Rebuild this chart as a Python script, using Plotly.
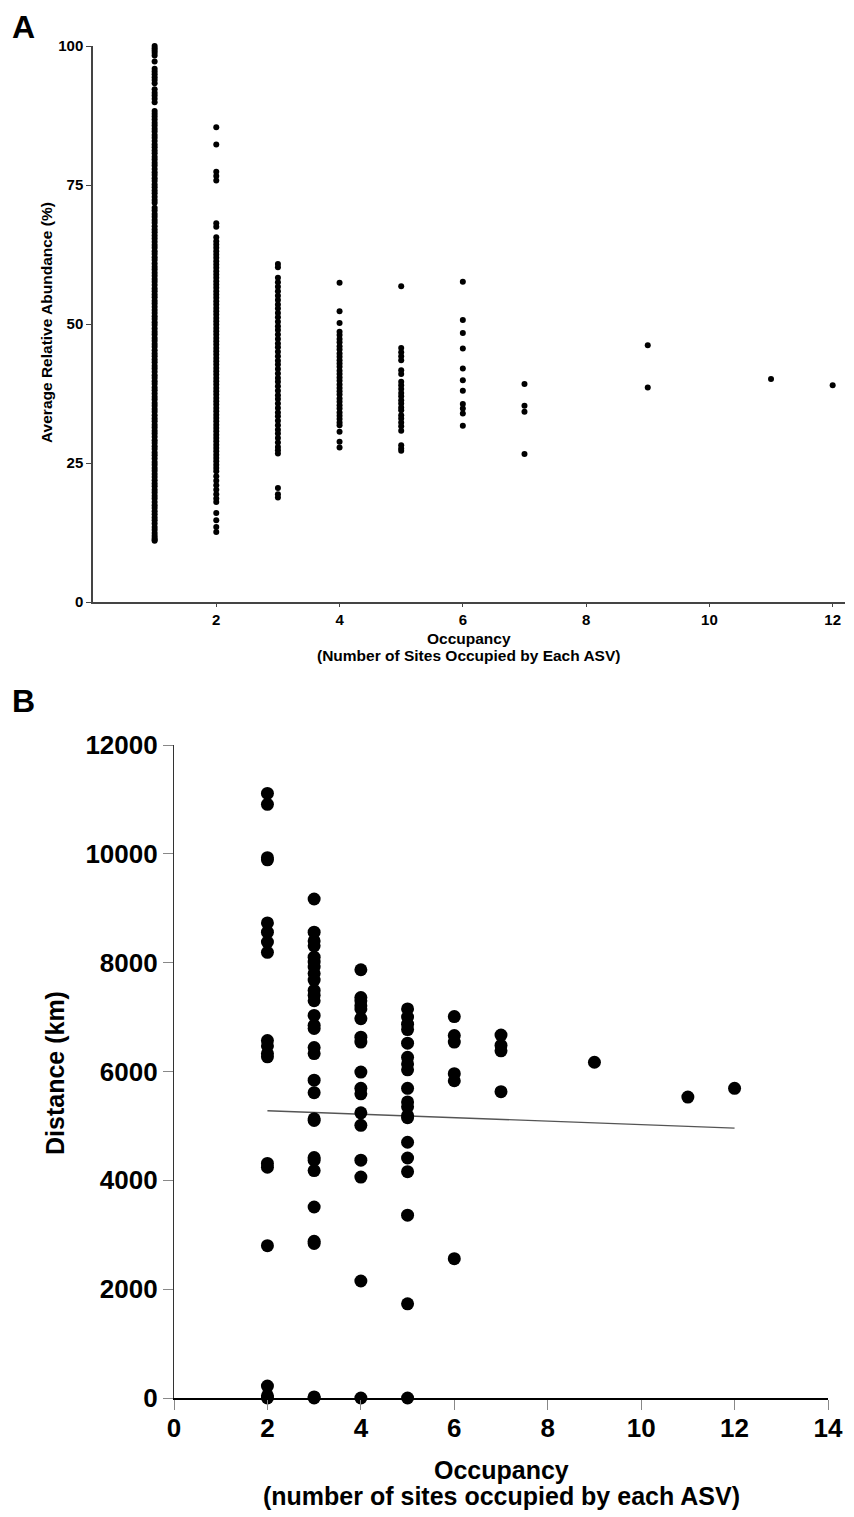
import plotly.graph_objects as go

# the page body adds an 8px margin, so the figure is drawn 8px smaller
# and all reference pixel positions are shifted by 8
PAGE_W, PAGE_H, OFF = 854, 1517, 8
W, H = PAGE_W - OFF, PAGE_H - OFF

# ---- Panel A: average relative abundance (%) by occupancy ----
a_occ1 = [100.0, 99.6, 99.2, 98.8, 98.3, 97.2, 95.9, 95.4, 94.9, 94.4, 93.9, 93.3,
          92.2, 91.6, 91.1, 90.5, 89.9,
          88.3, 87.8, 87.3, 86.8, 86.2, 85.7, 85.1, 84.6, 84.0, 83.5, 82.9, 82.3,
          81.8, 81.2, 80.7, 80.1, 79.6, 79.0, 78.5, 77.9, 77.3, 76.8, 76.2, 75.7,
          75.1, 74.6, 74.0, 73.5, 72.9, 72.3, 71.8,
          70.9, 70.4, 69.8, 69.3, 68.7, 68.2, 67.6, 67.0, 66.5, 65.9, 65.4, 64.8,
          64.2, 63.7, 63.1, 62.6, 62.0, 61.5, 60.9, 60.3, 59.8, 59.2, 58.7, 58.1,
          57.6, 57.0, 56.4, 55.9, 55.3, 54.8, 54.2, 53.7, 53.1, 52.5, 52.0, 51.4,
          50.9, 50.3, 49.8, 49.2, 48.6, 48.1, 47.5, 47.0, 46.4, 45.9, 45.3, 44.7,
          44.2, 43.6, 43.1, 42.5, 42.0, 41.4, 40.8, 40.3, 39.7, 39.2, 38.6, 38.1,
          37.5, 36.9, 36.4, 35.8, 35.3, 34.7, 34.2, 33.6, 33.0, 32.5, 31.9, 31.4,
          30.8, 30.3, 29.7, 29.1, 28.6, 28.0, 27.5, 26.9, 26.4, 25.8, 25.2, 24.7,
          24.1, 23.6, 23.0, 22.5, 21.9, 21.3, 20.8, 20.2, 19.7, 19.1, 18.6, 18.0,
          17.4, 16.9, 16.3, 15.8, 15.2, 14.7, 14.1, 13.5, 13.0, 12.4, 11.9, 11.5,
          11.2, 11.0]
a_occ2 = [85.4, 82.3, 77.4, 76.6, 75.8, 68.1, 67.5, 65.6, 64.9, 64.3, 63.7, 63.1,
          62.5, 61.9, 61.3, 60.7, 60.1, 59.5, 58.9, 58.3, 57.7, 57.1, 56.5, 55.9,
          55.3, 54.7, 54.1, 53.5, 52.9, 52.3, 51.7, 51.1, 50.5, 49.9, 49.3, 48.7,
          48.1, 47.5, 46.9, 46.3, 45.7, 45.1, 44.5, 43.9, 43.3, 42.7, 42.1, 41.5,
          40.9, 40.3, 39.7, 39.1, 38.5, 37.9, 37.3, 36.7, 36.1, 35.5, 34.9, 34.3,
          33.7, 33.1, 32.5, 31.9, 31.3, 30.7, 30.1, 29.5, 28.9, 28.3, 27.7, 27.1,
          26.5, 25.9, 25.3, 24.7, 24.1, 23.5, 22.6, 21.8, 21.0, 20.2, 19.4, 18.6,
          18.0, 16.0, 14.7, 13.5, 12.6]
a_occ3 = [60.8, 60.2, 58.3, 57.5, 56.7, 55.9, 55.1, 54.3, 53.5, 52.8, 52.0, 51.2,
          50.4, 49.6, 48.9, 48.1, 47.3, 46.5, 45.8, 45.0, 44.2, 43.4, 42.7, 41.9,
          41.1, 40.3, 39.6, 38.8, 38.0, 37.2, 36.5, 35.7, 34.9, 34.1, 33.4, 32.6,
          31.8, 31.0, 30.3, 29.5, 28.7, 27.9, 27.3, 26.7, 20.5, 19.4, 18.8]
a_occ4 = [57.4, 52.3, 50.2, 48.6, 48.0, 47.3, 46.7, 46.0, 45.4, 44.7, 44.1, 43.5,
          42.9, 42.3, 41.6, 41.0, 40.4, 39.8, 39.1, 38.5, 37.9, 37.3, 36.6, 36.0,
          35.4, 34.8, 34.1, 33.5, 32.9, 32.3, 31.8, 30.6, 28.8, 27.8]
a_occ5 = [56.8, 45.7, 44.9, 44.2, 43.5, 41.7, 41.0, 39.6, 39.0, 38.3, 37.6, 37.0,
          36.3, 35.7, 35.0, 34.5, 33.6, 33.0, 32.3, 31.6, 30.8, 28.2, 27.6, 27.2]
a_occ6 = [57.6, 50.7, 48.4, 45.6, 42.0, 39.9, 38.0, 35.6, 34.8, 33.9, 31.7]
a_occ7 = [39.2, 35.3, 34.2, 26.6]
a_occ9 = [46.2, 38.6]
a_occ11 = [40.1]
a_occ12 = [39.0]

a_columns = [(1, a_occ1), (2, a_occ2), (3, a_occ3), (4, a_occ4), (5, a_occ5),
             (6, a_occ6), (7, a_occ7), (9, a_occ9), (11, a_occ11), (12, a_occ12)]

# ---- Panel B: distance (km) by occupancy ----
b_occ2 = [11110, 10910, 9930, 9890, 8730, 8560, 8380, 8190, 6570, 6470, 6330, 6270,
          4310, 4240, 2800, 220, 40, 0]
b_occ3 = [9170, 8560, 8400, 8310, 8100, 8010, 7920, 7800, 7680, 7490, 7400, 7300,
          7030, 6850, 6790, 6440, 6330, 5840, 5610, 5130, 5100, 4420, 4370, 4180,
          3510, 2880, 2840, 20, 0]
b_occ4 = [7870, 7360, 7300, 7210, 7150, 6970, 6630, 6540, 5990, 5690, 5590, 5240,
          5010, 4370, 4060, 2150, 0]
b_occ5 = [7150, 7000, 6870, 6770, 6520, 6260, 6140, 6030, 5690, 5440, 5350, 5190,
          5150, 4700, 4410, 4160, 3360, 1730, 0]
b_occ6 = [7010, 6660, 6540, 5960, 5830, 2560]
b_occ7 = [6670, 6480, 6380, 5630]
b_occ9 = [6170]
b_occ11 = [5530]
b_occ12 = [5690]

b_columns = [(2, b_occ2), (3, b_occ3), (4, b_occ4), (5, b_occ5), (6, b_occ6),
             (7, b_occ7), (9, b_occ9), (11, b_occ11), (12, b_occ12)]

# fitted line as drawn on the figure
trend_x = [2, 12]
trend_y = [5280, 4960]

a_xticks = [2, 4, 6, 8, 10, 12]
a_yticks = [0, 25, 50, 75, 100]
b_xticks = [0, 2, 4, 6, 8, 10, 12, 14]
b_yticks = [0, 2000, 4000, 6000, 8000, 10000, 12000]


def flatten(columns):
    xs, ys = [], []
    for occ, vals in columns:
        xs += [occ] * len(vals)
        ys += vals
    return xs, ys


def fx(px):
    return (px - OFF) / W


def fy(px):
    return 1 - (px - OFF) / H


FONT = "Liberation Sans, Arial, sans-serif"

ax, ay = flatten(a_columns)
bx, by = flatten(b_columns)

fig = go.Figure()
fig.add_trace(go.Scatter(x=ax, y=ay, mode="markers", xaxis="x", yaxis="y",
                         marker=dict(color="black", size=6, line=dict(width=0)),
                         cliponaxis=False, showlegend=False))
fig.add_trace(go.Scatter(x=trend_x, y=trend_y, mode="lines", xaxis="x2", yaxis="y2",
                         line=dict(color="#555555", width=1.4), showlegend=False))
fig.add_trace(go.Scatter(x=bx, y=by, mode="markers", xaxis="x2", yaxis="y2",
                         marker=dict(color="black", size=13, line=dict(width=0)),
                         cliponaxis=False, showlegend=False))

a_tick = dict(family=FONT, size=15, color="black", weight="bold")
b_tick = dict(family=FONT, size=26, color="black", weight="bold")

common = dict(showgrid=False, zeroline=False, showline=True, ticks="outside",
              automargin=False, tickformat="d")

fig.update_layout(
    template="none",
    width=W, height=H,
    margin=dict(l=0, r=0, t=0, b=0),
    paper_bgcolor="white", plot_bgcolor="white",
    font=dict(family=FONT, color="black"),
    xaxis=dict(domain=[fx(93), fx(845)], anchor="y", range=[0, 12.2],
               tickvals=a_xticks, linecolor="#444444", linewidth=1.5,
               ticklen=3, tickwidth=1.2, tickcolor="#444444",
               tickfont=a_tick, **common),
    yaxis=dict(domain=[fy(602), fy(46)], anchor="x", range=[0, 100],
               tickvals=a_yticks, linecolor="#444444", linewidth=1.5,
               ticklen=5, tickwidth=1.2, tickcolor="#444444",
               tickfont=a_tick, **common),
    xaxis2=dict(domain=[fx(174), fx(828)], anchor="y2", range=[0, 14],
                tickvals=b_xticks, linecolor="black", linewidth=2,
                ticklen=10, tickwidth=1, tickcolor="#888888",
                ticklabelstandoff=-4, tickfont=b_tick, **common),
    yaxis2=dict(domain=[fy(1398), fy(745)], anchor="x2", range=[0, 12000],
                tickvals=b_yticks, linecolor="#333333", linewidth=1.2,
                ticklen=10, tickwidth=1, tickcolor="#888888",
                tickfont=b_tick, **common),
)

annotations = [
    dict(text="<b>A</b>", x=fx(23), y=fy(27), font=dict(size=32)),
    dict(text="<b>B</b>", x=fx(23), y=fy(701), font=dict(size=32)),
    dict(text="<b>Average Relative Abundance (%)</b>", x=fx(46), y=fy(323),
         textangle=-90, font=dict(size=15.5)),
    dict(text="<b>Occupancy</b>", x=fx(469), y=fy(638), font=dict(size=15.5)),
    dict(text="<b>(Number of Sites Occupied by Each ASV)</b>",
         x=fx(469), y=fy(655), font=dict(size=15.5)),
    dict(text="<b>Distance (km)</b>", x=fx(55), y=fy(1073),
         textangle=-90, font=dict(size=25)),
    dict(text="<b>Occupancy</b>", x=fx(502), y=fy(1470), font=dict(size=25)),
    dict(text="<b>(number of sites occupied by each ASV)</b>",
         x=fx(502), y=fy(1496), font=dict(size=25)),
]
for a in annotations:
    a.update(xref="paper", yref="paper", showarrow=False,
             xanchor="center", yanchor="middle")
    a["font"].update(family=FONT, color="black")
fig.update_layout(annotations=annotations)

fig.write_html("out.html")
